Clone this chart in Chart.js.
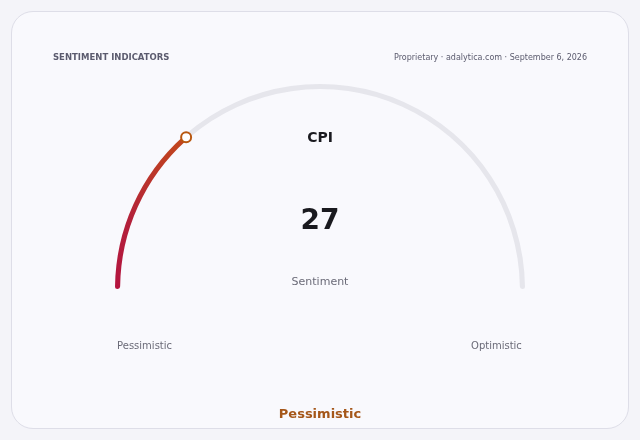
<!DOCTYPE html>
<html>
<head>
<meta charset="utf-8">
<script src="https://cdn.jsdelivr.net/npm/chart.js@4.4.1/dist/chart.umd.min.js"></script>
<style>
  html, body { margin: 0; padding: 0; background: #f4f4f9; }
  #wrap { position: relative; width: 640px; height: 440px; }
  #card {
    position: absolute; left: 11px; top: 11px; width: 616px; height: 416px;
    border: 1px solid #dedee8; border-radius: 22px; background: #f9f9fd;
  }
  #chart { position: absolute; left: 0; top: 0; }
</style>
</head>
<body>
<div id="wrap">
  <div id="card"></div>
  <canvas id="chart" width="640" height="440"></canvas>
</div>
<script>
// gauge data
const indicatorName = 'CPI';
const indicatorSub = 'Sentiment';
const gaugeValue = 27;
const gaugeMax = 100;
const scaleLabels = ['Pessimistic', 'Optimistic'];
const verdict = 'Pessimistic';
const headerLeft = 'SENTIMENT INDICATORS';
const headerRight = 'Proprietary · adalytica.com · September 6, 2026';

const FONT = '"DejaVu Sans", Verdana, sans-serif';

// Draws header, centre texts, end labels and the value marker
const gaugeText = {
    id: 'gaugeText',
    afterDatasetsDraw(chart) {
        const ctx = chart.ctx;
        const meta = chart.getDatasetMeta(0);
        const arc = meta.data[0];
        if (!arc) return;
        const cx = arc.x, cy = arc.y;
        const r = (arc.outerRadius + arc.innerRadius) / 2;

        ctx.save();
        ctx.textBaseline = 'middle';

        // header
        ctx.fillStyle = '#5b5b6e';
        ctx.font = 'bold 8.5px ' + FONT;
        ctx.textAlign = 'left';
        ctx.fillText(headerLeft, 53, 58);
        ctx.font = '8px ' + FONT;
        ctx.textAlign = 'right';
        ctx.fillText(headerRight, 587, 58);

        // centre
        ctx.textAlign = 'center';
        ctx.fillStyle = '#1a1a1f';
        ctx.font = 'bold 14px ' + FONT;
        ctx.fillText(indicatorName, cx, 138);
        ctx.font = 'bold 28px ' + FONT;
        ctx.fillText(String(gaugeValue), cx, 222);
        ctx.fillStyle = '#6b6b78';
        ctx.font = '11px ' + FONT;
        ctx.fillText(indicatorSub, cx, 282);

        // scale ends
        ctx.font = '10px ' + FONT;
        ctx.fillText(scaleLabels[0], cx - r + 27, 346);
        ctx.fillText(scaleLabels[1], cx + r - 26, 346);

        // verdict
        ctx.fillStyle = '#a5571a';
        ctx.font = 'bold 13px ' + FONT;
        ctx.fillText(verdict, cx, 415);

        // marker at the end of the value arc
        const a = arc.endAngle;
        const mx = cx + r * Math.cos(a);
        const my = cy + r * Math.sin(a);
        ctx.beginPath();
        ctx.arc(mx, my, 5, 0, Math.PI * 2);
        ctx.fillStyle = '#ffffff';
        ctx.fill();
        ctx.lineWidth = 2;
        ctx.strokeStyle = '#b8570f';
        ctx.stroke();
        ctx.restore();
    }
};

function arcColor(context) {
    if (context.dataIndex !== 0) return '#e6e6ec';
    const chart = context.chart;
    const area = chart.chartArea;
    if (!area) return '#b5173f';
    const r = area.bottom - area.top;
    const frac = gaugeValue / gaugeMax;
    const topY = area.bottom - r * Math.sin(Math.PI * frac);
    const g = chart.ctx.createLinearGradient(0, area.bottom, 0, topY);
    g.addColorStop(0, '#b4143f');
    g.addColorStop(0.45, '#b3213a');
    g.addColorStop(1, '#c2481c');
    return g;
}

const ctx = document.getElementById('chart').getContext('2d');
new Chart(ctx, {
    type: 'doughnut',
    data: {
        labels: ['value', 'rest'],
        datasets: [{
            data: [gaugeValue, gaugeMax - gaugeValue],
            backgroundColor: arcColor,
            borderWidth: 0,
            borderRadius: 2.5
        }]
    },
    options: {
        responsive: false,
        animation: false,
        rotation: -90,
        circumference: 180,
        cutout: '97.5%',
        layout: { padding: { left: 114, right: 114, top: 84, bottom: 151 } },
        plugins: {
            legend: { display: false },
            tooltip: { enabled: false }
        }
    },
    plugins: [gaugeText]
});
</script>
</body>
</html>
